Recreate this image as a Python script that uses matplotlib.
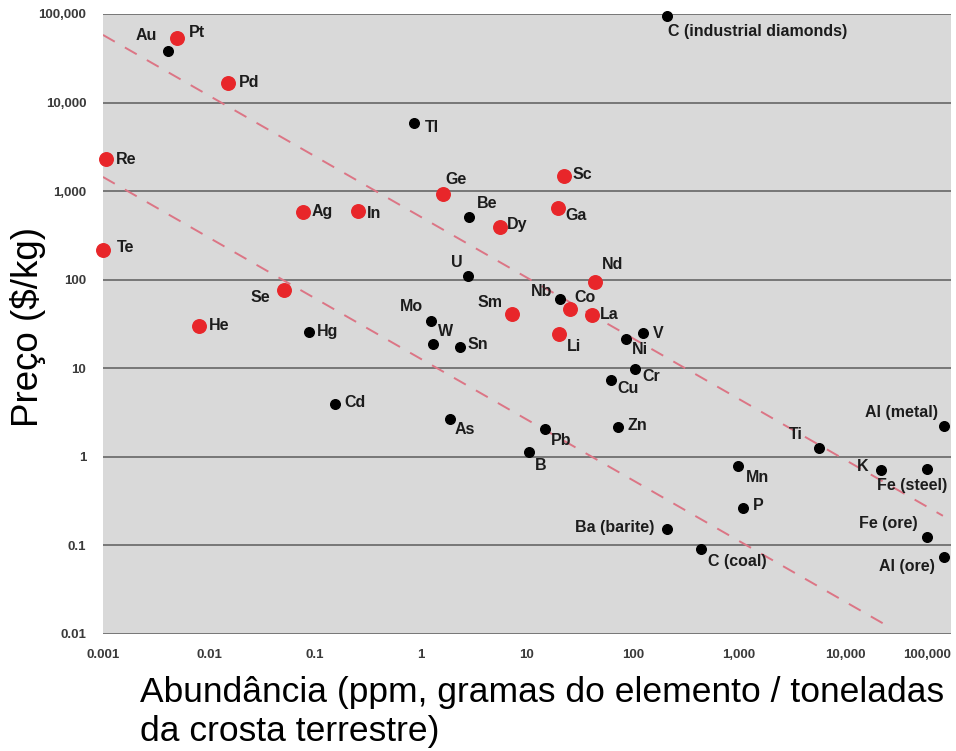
import numpy as np
import matplotlib.pyplot as plt

plt.rcParams['font.family'] = ['Liberation Sans', 'DejaVu Sans']

# critical elements (red)
red_names = ['Pt', 'Pd', 'Re', 'Te', 'Ag', 'In', 'Ge', 'Se', 'He', 'Sc', 'Ga',
             'Dy', 'Nd', 'Sm', 'Co', 'La', 'Li']
red_abund = [0.005, 0.0151, 0.00107, 0.001, 0.077, 0.255, 1.61, 0.051, 0.0081,
             22.3, 19.6, 5.56, 43.8, 7.2, 25.5, 41, 20]
red_price = [53000, 16600, 2300, 217, 582, 590, 929, 76.7, 30.1,
             1485, 646, 394, 94.5, 41, 46.8, 40, 24.4]

# other elements (black)
blk_names = ['Au', 'Tl', 'C (industrial diamonds)', 'Be', 'U', 'Mo', 'W', 'Sn',
             'Hg', 'Cd', 'As', 'Nb', 'Ni', 'V', 'Cr', 'Cu', 'Zn', 'Pb', 'B',
             'Mn', 'P', 'Ba (barite)', 'C (coal)', 'Ti', 'K', 'Fe (steel)',
             'Fe (ore)', 'Al (metal)', 'Al (ore)']
blk_abund = [0.0041, 0.86, 209, 2.84, 2.78, 1.24, 1.29, 2.33,
             0.0877, 0.155, 1.88, 20.5, 86, 124, 104, 62, 72, 14.8, 10.4,
             980, 1090, 209, 438, 5690, 21900, 59400,
             59400, 85900, 85900]
blk_price = [38200, 5890, 95000, 511, 110, 34.3, 18.8, 17.5,
             25.8, 3.96, 2.69, 60.7, 21.5, 25, 9.85, 7.4, 2.18, 2.07, 1.14,
             0.79, 0.265, 0.154, 0.0916, 1.26, 0.713, 0.73,
             0.125, 2.24, 0.0743]

# dashed trend lines (end points)
upper_x = [0.001, 84000]
upper_y = [58000, 0.216]
lower_x = [0.001, 22800]
lower_y = [1445, 0.0132]

y_ticks = [0.01, 0.1, 1, 10, 100, 1000, 10000, 100000]
y_labels = ['0.01', '0.1', '1', '10', '100', '1,000', '10,000', '100,000']
x_ticks = [0.001, 0.01, 0.1, 1, 10, 100, 1000, 10000, 100000]
x_labels = ['0.001', '0.01', '0.1', '1', '10', '100', '1,000', '10,000', '100,000']

# label placement: (dx, dy) in pixels, alignment
red_off = [(12, 6, 'left'), (11, 1, 'left'), (10, 0, 'left'), (14, 2, 'left'),
           (9, 0, 'left'), (9, -2, 'left'), (3, 14, 'left'), (-14, -8, 'right'),
           (10, 0, 'left'), (9, 1, 'left'), (7, -8, 'left'), (7, 2, 'left'),
           (7, 17, 'left'), (-9, 11, 'right'), (4, 11, 'left'), (8, 0, 'left'),
           (8, -13, 'left')]
blk_off = [(-11, 15, 'right'), (11, -5, 'left'), (1, -16, 'left'), (8, 13, 'left'),
           (-5, 14, 'right'), (-8, 14, 'right'), (5, 12, 'left'), (8, 2, 'left'),
           (8, 0, 'left'), (9, 1, 'left'), (5, -11, 'left'), (-8, 7, 'right'),
           (6, -11, 'left'), (10, 0, 'left'), (8, -8, 'left'), (6, -9, 'left'),
           (10, 1, 'left'), (6, -12, 'left'), (6, -14, 'left'), (8, -12, 'left'),
           (10, 2, 'left'), (-13, 1, 'right'), (7, -13, 'left'), (-16, 13, 'right'),
           (-13, 3, 'right'), (20, -17, 'right'), (-9, 13, 'right'),
           (-6, 13, 'right'), (-9, -10, 'right')]

fig = plt.figure(figsize=(9.56, 7.51), dpi=100)
ax = fig.add_axes([0.1077, 0.1558, 0.887, 0.8256])
ax.set_facecolor('#d9d9d9')
ax.set_xscale('log')
ax.set_yscale('log')
ax.set_xlim(0.001, 100000)
ax.set_ylim(0.01, 100000)

for s in ax.spines.values():
    s.set_visible(False)
ax.set_yticks(y_ticks)
ax.set_yticklabels(y_labels)
ax.set_xticks(x_ticks)
ax.set_xticklabels(x_labels)
ax.minorticks_off()
ax.tick_params(length=0, labelsize=9.5, labelcolor='#3a3a3a')
ax.tick_params(axis='y', pad=12)
ax.tick_params(axis='x', pad=11)
for t in ax.get_xticklabels() + ax.get_yticklabels():
    t.set_fontweight('bold')
# keep the last x label inside the figure
ax.get_xticklabels()[-1].set_ha('right')
ax.yaxis.grid(True, color='#777777', linewidth=1.4)
ax.set_axisbelow(True)

ax.plot(upper_x, upper_y, color='#dc7585', lw=1.4, dashes=(7, 6))
ax.plot(lower_x, lower_y, color='#dc7585', lw=1.4, dashes=(7, 6))

ax.scatter(blk_abund, blk_price, s=48, color='black', zorder=3, clip_on=False)
ax.scatter(red_abund, red_price, s=95, color='#e8262a', zorder=3, clip_on=False)

for names, xs, ys, offs in [(red_names, red_abund, red_price, red_off),
                            (blk_names, blk_abund, blk_price, blk_off)]:
    for n, x, y, (dx, dy, ha) in zip(names, xs, ys, offs):
        ax.annotate(n, (x, y), xytext=(dx, dy), textcoords='offset pixels',
                    ha=ha, va='center', fontsize=11.5, fontweight='bold',
                    color='#1c1c1c', annotation_clip=False)

fig.text(28 / 956, 1 - 327 / 751, 'Preço ($/kg)', rotation=90, fontsize=26.5,
         ha='center', va='center')
fig.text(140 / 956, 1 - 676 / 751,
         'Abundância (ppm, gramas do elemento / toneladas\nda crosta terrestre)',
         fontsize=25.5, ha='left', va='top', linespacing=1.25)

fig.savefig('out.png', dpi=100)
